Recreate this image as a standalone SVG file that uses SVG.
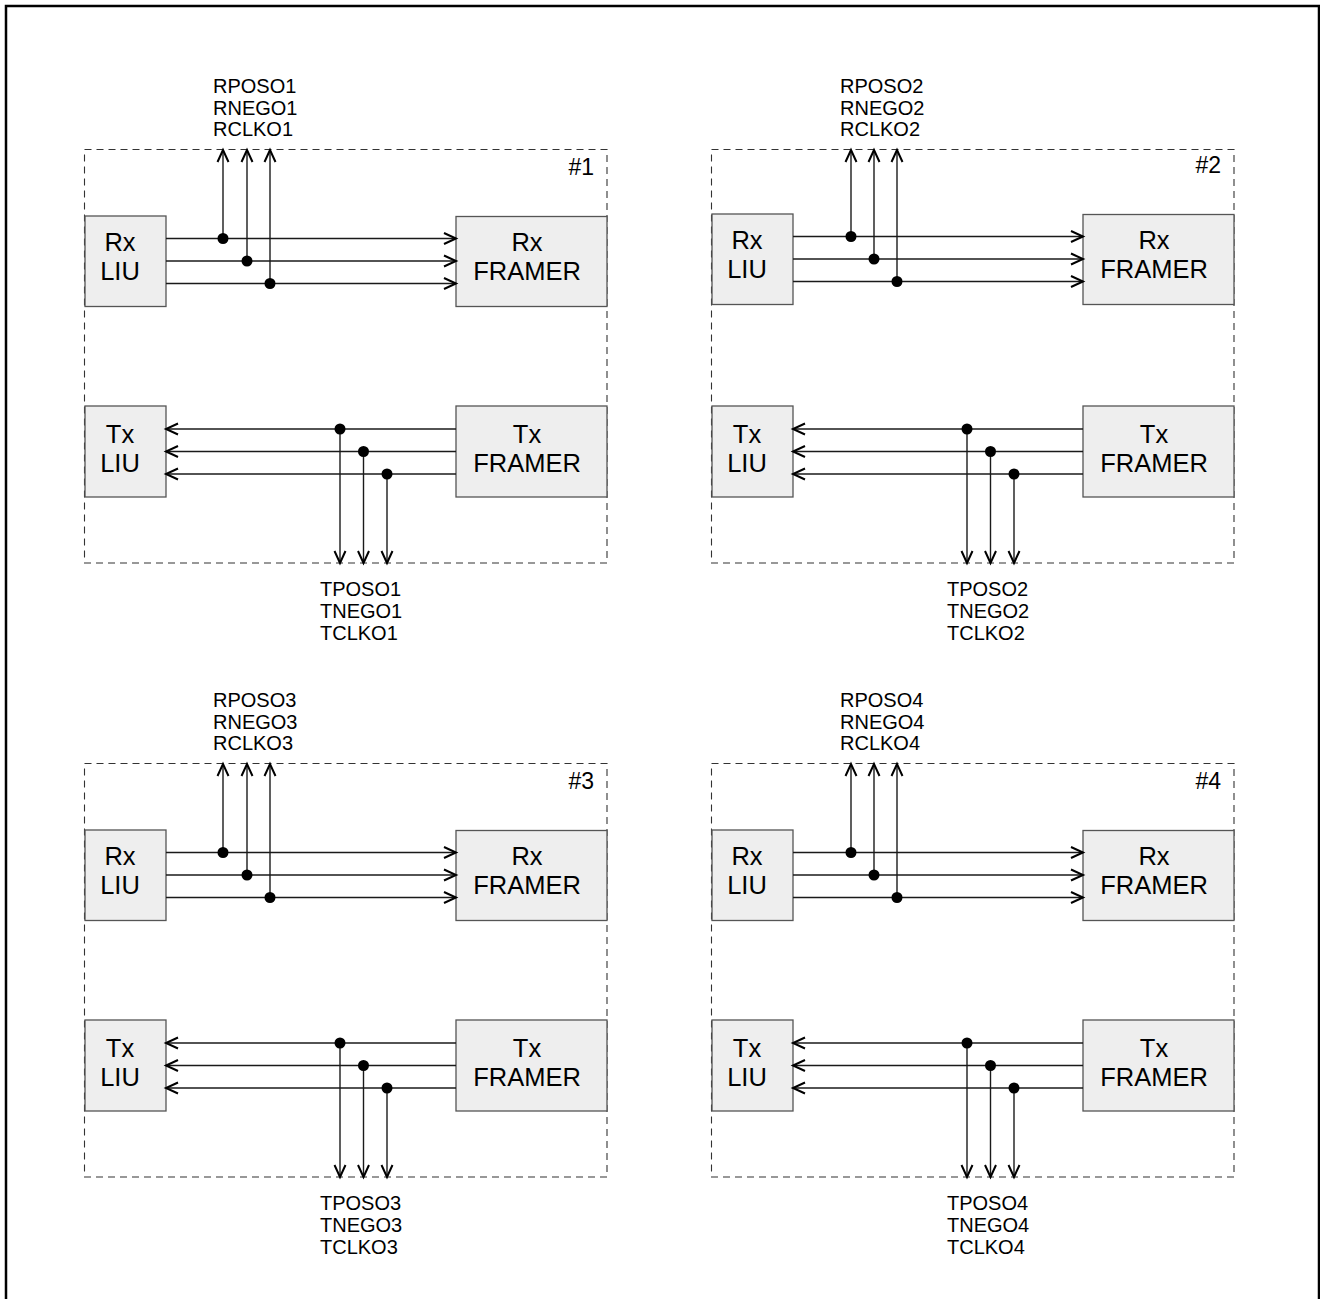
<svg xmlns="http://www.w3.org/2000/svg" width="1320" height="1299" viewBox="0 0 1320 1299">
<style>
.frame{fill:none;stroke:#000;stroke-width:2.5}
.grp{fill:none;stroke:#333;stroke-width:1.1;stroke-dasharray:7 5}
.box{fill:#eeeeee;stroke:#555;stroke-width:1.3}
.bt{font-family:"Liberation Sans",Arial,sans-serif;font-size:25.5px;fill:#000;text-anchor:middle}
.sig{font-family:"Liberation Sans",Arial,sans-serif;font-size:20px;fill:#000}
.num{font-family:"Liberation Sans",Arial,sans-serif;font-size:23px;fill:#000;text-anchor:end}
.w{fill:none;stroke:#1a1a1a;stroke-width:1.4}
.arr{marker-end:url(#ah)}
.dot{fill:#000}
</style>
<defs>
<marker id="ah" markerUnits="userSpaceOnUse" markerWidth="16" markerHeight="16" viewBox="0 0 16 16" refX="13" refY="7" orient="auto">
<path d="M1,1.5 L13,7 L1,12.5" fill="none" stroke="#000" stroke-width="2"/>
</marker>
</defs>
<rect class="frame" x="6" y="6" width="1313" height="1300"/>

<g id="nodes">
<g id="q1" transform="translate(0,0)">
<g id="group1"><rect class="grp" x="84.5" y="149.5" width="522.5" height="413.5"/><text class="num" x="594" y="175">#1</text></g>
<g id="rxliu1"><rect class="box" x="85" y="216" width="81" height="90.5"/><text class="bt" x="120" y="251">Rx</text><text class="bt" x="120" y="280">LIU</text></g>
<g id="rxframer1"><rect class="box" x="456" y="216.5" width="151" height="90"/><text class="bt" x="527" y="251">Rx</text><text class="bt" x="527" y="280">FRAMER</text></g>
<g id="txliu1"><rect class="box" x="85" y="406" width="81" height="91"/><text class="bt" x="120" y="443">Tx</text><text class="bt" x="120" y="472">LIU</text></g>
<g id="txframer1"><rect class="box" x="456" y="406" width="151" height="91"/><text class="bt" x="527" y="443">Tx</text><text class="bt" x="527" y="472">FRAMER</text></g>
<g id="rlabels1"><text class="sig" x="213" y="93">RPOSO1</text><text class="sig" x="213" y="114.5">RNEGO1</text><text class="sig" x="213" y="136">RCLKO1</text></g>
<g id="tlabels1"><text class="sig" x="320" y="596">TPOSO1</text><text class="sig" x="320" y="618">TNEGO1</text><text class="sig" x="320" y="640">TCLKO1</text></g>
</g>
<g id="q2" transform="translate(627,0)">
<g id="group2"><rect class="grp" x="84.5" y="149.5" width="522.5" height="413.5"/><text class="num" x="594" y="173">#2</text></g>
<g id="rxliu2"><rect class="box" x="85" y="214" width="81" height="90.5"/><text class="bt" x="120" y="249">Rx</text><text class="bt" x="120" y="278">LIU</text></g>
<g id="rxframer2"><rect class="box" x="456" y="214.5" width="151" height="90"/><text class="bt" x="527" y="249">Rx</text><text class="bt" x="527" y="278">FRAMER</text></g>
<g id="txliu2"><rect class="box" x="85" y="406" width="81" height="91"/><text class="bt" x="120" y="443">Tx</text><text class="bt" x="120" y="472">LIU</text></g>
<g id="txframer2"><rect class="box" x="456" y="406" width="151" height="91"/><text class="bt" x="527" y="443">Tx</text><text class="bt" x="527" y="472">FRAMER</text></g>
<g id="rlabels2"><text class="sig" x="213" y="93">RPOSO2</text><text class="sig" x="213" y="114.5">RNEGO2</text><text class="sig" x="213" y="136">RCLKO2</text></g>
<g id="tlabels2"><text class="sig" x="320" y="596">TPOSO2</text><text class="sig" x="320" y="618">TNEGO2</text><text class="sig" x="320" y="640">TCLKO2</text></g>
</g>
<g id="q3" transform="translate(0,614)">
<g id="group3"><rect class="grp" x="84.5" y="149.5" width="522.5" height="413.5"/><text class="num" x="594" y="175">#3</text></g>
<g id="rxliu3"><rect class="box" x="85" y="216" width="81" height="90.5"/><text class="bt" x="120" y="251">Rx</text><text class="bt" x="120" y="280">LIU</text></g>
<g id="rxframer3"><rect class="box" x="456" y="216.5" width="151" height="90"/><text class="bt" x="527" y="251">Rx</text><text class="bt" x="527" y="280">FRAMER</text></g>
<g id="txliu3"><rect class="box" x="85" y="406" width="81" height="91"/><text class="bt" x="120" y="443">Tx</text><text class="bt" x="120" y="472">LIU</text></g>
<g id="txframer3"><rect class="box" x="456" y="406" width="151" height="91"/><text class="bt" x="527" y="443">Tx</text><text class="bt" x="527" y="472">FRAMER</text></g>
<g id="rlabels3"><text class="sig" x="213" y="93">RPOSO3</text><text class="sig" x="213" y="114.5">RNEGO3</text><text class="sig" x="213" y="136">RCLKO3</text></g>
<g id="tlabels3"><text class="sig" x="320" y="596">TPOSO3</text><text class="sig" x="320" y="618">TNEGO3</text><text class="sig" x="320" y="640">TCLKO3</text></g>
</g>
<g id="q4" transform="translate(627,614)">
<g id="group4"><rect class="grp" x="84.5" y="149.5" width="522.5" height="413.5"/><text class="num" x="594" y="175">#4</text></g>
<g id="rxliu4"><rect class="box" x="85" y="216" width="81" height="90.5"/><text class="bt" x="120" y="251">Rx</text><text class="bt" x="120" y="280">LIU</text></g>
<g id="rxframer4"><rect class="box" x="456" y="216.5" width="151" height="90"/><text class="bt" x="527" y="251">Rx</text><text class="bt" x="527" y="280">FRAMER</text></g>
<g id="txliu4"><rect class="box" x="85" y="406" width="81" height="91"/><text class="bt" x="120" y="443">Tx</text><text class="bt" x="120" y="472">LIU</text></g>
<g id="txframer4"><rect class="box" x="456" y="406" width="151" height="91"/><text class="bt" x="527" y="443">Tx</text><text class="bt" x="527" y="472">FRAMER</text></g>
<g id="rlabels4"><text class="sig" x="213" y="93">RPOSO4</text><text class="sig" x="213" y="114.5">RNEGO4</text><text class="sig" x="213" y="136">RCLKO4</text></g>
<g id="tlabels4"><text class="sig" x="320" y="596">TPOSO4</text><text class="sig" x="320" y="618">TNEGO4</text><text class="sig" x="320" y="640">TCLKO4</text></g>
</g>
</g>

<g id="connectors">
<g id="c1" transform="translate(0,0)">
<path class="w arr" d="M166,238.5 H456"/><path class="w arr" d="M166,261 H456"/><path class="w arr" d="M166,283.5 H456"/>
<path class="w arr" d="M223,238.5 V150"/><path class="w arr" d="M247,261 V150"/><path class="w arr" d="M270,283.5 V150"/>
<circle class="dot" cx="223" cy="238.5" r="5.5"/><circle class="dot" cx="247" cy="261" r="5.5"/><circle class="dot" cx="270" cy="283.5" r="5.5"/>
<path class="w arr" d="M456,429 H166"/><path class="w arr" d="M456,451.5 H166"/><path class="w arr" d="M456,474 H166"/>
<path class="w arr" d="M340,429 V563"/><path class="w arr" d="M363.5,451.5 V563"/><path class="w arr" d="M387,474 V563"/>
<circle class="dot" cx="340" cy="429" r="5.5"/><circle class="dot" cx="363.5" cy="451.5" r="5.5"/><circle class="dot" cx="387" cy="474" r="5.5"/>
</g>
<g id="c2" transform="translate(627,0)">
<path class="w arr" d="M166,236.5 H456"/><path class="w arr" d="M166,259 H456"/><path class="w arr" d="M166,281.5 H456"/>
<path class="w arr" d="M224,236.5 V150"/><path class="w arr" d="M247,259 V150"/><path class="w arr" d="M270,281.5 V150"/>
<circle class="dot" cx="224" cy="236.5" r="5.5"/><circle class="dot" cx="247" cy="259" r="5.5"/><circle class="dot" cx="270" cy="281.5" r="5.5"/>
<path class="w arr" d="M456,429 H166"/><path class="w arr" d="M456,451.5 H166"/><path class="w arr" d="M456,474 H166"/>
<path class="w arr" d="M340,429 V563"/><path class="w arr" d="M363.5,451.5 V563"/><path class="w arr" d="M387,474 V563"/>
<circle class="dot" cx="340" cy="429" r="5.5"/><circle class="dot" cx="363.5" cy="451.5" r="5.5"/><circle class="dot" cx="387" cy="474" r="5.5"/>
</g>
<g id="c3" transform="translate(0,614)">
<path class="w arr" d="M166,238.5 H456"/><path class="w arr" d="M166,261 H456"/><path class="w arr" d="M166,283.5 H456"/>
<path class="w arr" d="M223,238.5 V150"/><path class="w arr" d="M247,261 V150"/><path class="w arr" d="M270,283.5 V150"/>
<circle class="dot" cx="223" cy="238.5" r="5.5"/><circle class="dot" cx="247" cy="261" r="5.5"/><circle class="dot" cx="270" cy="283.5" r="5.5"/>
<path class="w arr" d="M456,429 H166"/><path class="w arr" d="M456,451.5 H166"/><path class="w arr" d="M456,474 H166"/>
<path class="w arr" d="M340,429 V563"/><path class="w arr" d="M363.5,451.5 V563"/><path class="w arr" d="M387,474 V563"/>
<circle class="dot" cx="340" cy="429" r="5.5"/><circle class="dot" cx="363.5" cy="451.5" r="5.5"/><circle class="dot" cx="387" cy="474" r="5.5"/>
</g>
<g id="c4" transform="translate(627,614)">
<path class="w arr" d="M166,238.5 H456"/><path class="w arr" d="M166,261 H456"/><path class="w arr" d="M166,283.5 H456"/>
<path class="w arr" d="M224,238.5 V150"/><path class="w arr" d="M247,261 V150"/><path class="w arr" d="M270,283.5 V150"/>
<circle class="dot" cx="224" cy="238.5" r="5.5"/><circle class="dot" cx="247" cy="261" r="5.5"/><circle class="dot" cx="270" cy="283.5" r="5.5"/>
<path class="w arr" d="M456,429 H166"/><path class="w arr" d="M456,451.5 H166"/><path class="w arr" d="M456,474 H166"/>
<path class="w arr" d="M340,429 V563"/><path class="w arr" d="M363.5,451.5 V563"/><path class="w arr" d="M387,474 V563"/>
<circle class="dot" cx="340" cy="429" r="5.5"/><circle class="dot" cx="363.5" cy="451.5" r="5.5"/><circle class="dot" cx="387" cy="474" r="5.5"/>
</g>
</g>
</svg>
